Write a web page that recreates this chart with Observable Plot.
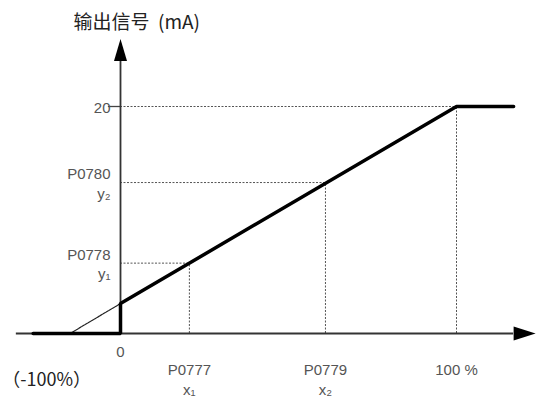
<!DOCTYPE html>
<html><head><meta charset="utf-8">
<script src="https://cdn.jsdelivr.net/npm/d3@7"></script>
<script src="https://cdn.jsdelivr.net/npm/@observablehq/plot@0.6"></script>
<style>body{margin:0;background:#fff}</style>
</head><body><div id="chart"></div>
<script>
// Characteristic curve (x in %, y in mA)
const curveX = [-26, 0, 0, 100, 117];
const curveY = [0, 0, 2.64, 20, 20];
// thin extrapolation of the slope below zero output
const extrapX = [-15, 0];
const extrapY = [0, 2.64];
// guide points: (x1,y1), (x2,y2), (100%,20)
const guideX = [20.5, 61, 100];
const guideY = [6.2, 13.3, 20];
const xTickLabels = ["P0777\nx\u2081", "P0779\nx\u2082", "100 %"];
const yTickLabels = ["P0778\ny\u2081", "P0780\ny\u2082", "20"];
const zeroLabel = ["0"];
const leftLabel = ["\uFF08-100%\uFF09"];
const leftLabelX = [-22];
const title = ["输出信号  (mA)"];
// axis extents
const xAxisFrom = -31, xAxisTo = 117;
const yAxisTo = 24;

const curve = curveX.map((x, i) => ({x, y: curveY[i]}));
const extrap = extrapX.map((x, i) => ({x, y: extrapY[i]}));
const guides = guideX.map((x, i) => ({x, y: guideY[i], xl: xTickLabels[i], yl: yTickLabels[i]}));

const arrowRight = {draw(ctx) { ctx.moveTo(0, -7); ctx.lineTo(22, 0); ctx.lineTo(0, 7); ctx.closePath(); }};
const arrowUp = {draw(ctx) { ctx.moveTo(-6.5, 0); ctx.lineTo(0, -22); ctx.lineTo(6.5, 0); ctx.closePath(); }};

const labelFont = "Liberation Sans, Arial, sans-serif";
const cjkFont = "Noto Sans CJK SC, sans-serif";

const chart = Plot.plot({
  width: 537,
  height: 397,
  margin: 0,
  style: {background: "#fff", overflow: "visible"},
  x: {domain: [0, 100], range: [120, 456], axis: null},
  y: {domain: [0, 20], range: [333, 106], axis: null},
  marks: [
    // dashed guide lines
    Plot.ruleY(guides, {y: "y", x1: 0, x2: "x", stroke: "#555", strokeWidth: 1, strokeDasharray: "2,1.5"}),
    Plot.ruleX(guides, {x: "x", y1: 0, y2: "y", stroke: "#555", strokeWidth: 1, strokeDasharray: "2,1.5"}),
    // tick at 20
    Plot.ruleY([20], {x1: -3.6, x2: 0, stroke: "#444", strokeWidth: 1.3}),
    // axes
    Plot.ruleY([0], {x1: xAxisFrom, x2: xAxisTo, stroke: "#333", strokeWidth: 1.8}),
    Plot.ruleX([0], {y1: 0, y2: yAxisTo, stroke: "#333", strokeWidth: 1.8}),
    Plot.dot([{x: xAxisTo, y: 0}], {x: "x", y: "y", symbol: arrowRight, fill: "#000", stroke: "none"}),
    Plot.dot([{x: 0, y: yAxisTo}], {x: "x", y: "y", symbol: arrowUp, fill: "#000", stroke: "none"}),
    // thin extrapolation
    Plot.line(extrap, {x: "x", y: "y", stroke: "#222", strokeWidth: 1.2, strokeDasharray: "2.5,1"}),
    // thick characteristic
    Plot.line(curve, {x: "x", y: "y", stroke: "#000", strokeWidth: 3.5, strokeLinejoin: "miter"}),
    // labels
    Plot.text(guides, {x: 0, y: "y", text: "yl", textAnchor: "end", dx: -10, lineAnchor: "middle", lineHeight: 1.3, fontSize: 15, fontFamily: labelFont, fill: "#555"}),
    Plot.text(guides, {x: "x", y: 0, text: "xl", textAnchor: "middle", dy: 28, lineAnchor: "top", lineHeight: 1.3, fontSize: 15, fontFamily: labelFont, fill: "#555"}),
    Plot.text(zeroLabel, {x: 0, y: 0, text: d => d, dy: 13, lineAnchor: "top", fontSize: 15, fontFamily: labelFont, fill: "#555"}),
    Plot.text(leftLabel, {x: leftLabelX, y: 0, text: d => d, dy: 47, fontSize: 18, fontFamily: cjkFont, fill: "#222", style: {letterSpacing: "2px"}}),
    Plot.text(title, {x: 0, y: yAxisTo, text: d => d, textAnchor: "start", dx: -47, dy: -38, fontSize: 19, fontFamily: cjkFont, fill: "#222"})
  ]
});
document.getElementById("chart").append(chart);
</script>
</body></html>
